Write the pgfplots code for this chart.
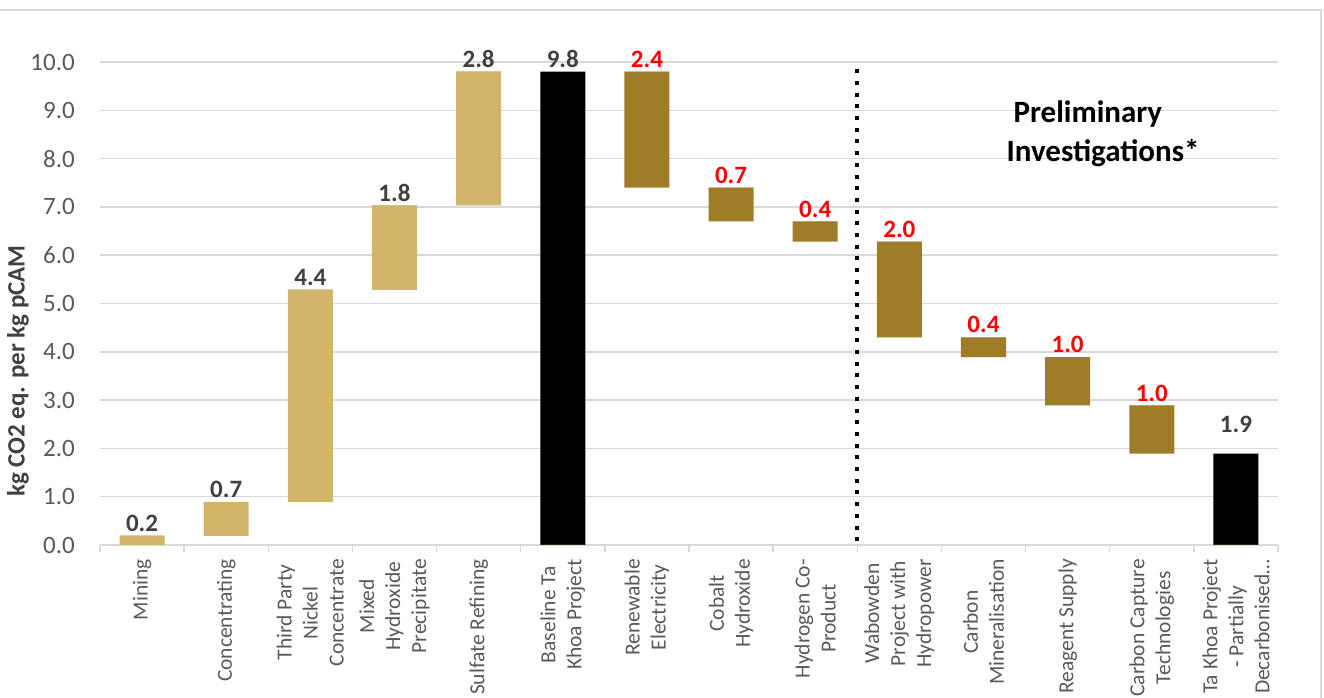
\documentclass[border=0pt]{standalone}
\usepackage{pgfplots}
\pgfplotsset{compat=1.18}
\usepackage{pgfplotstable}
\usepackage{fontspec}
\setmainfont{Carlito}

\definecolor{tanbar}{HTML}{D3B46B}
\definecolor{bronze}{HTML}{9E7C28}
\definecolor{gridgray}{HTML}{D9D9D9}
\definecolor{ticktext}{HTML}{595959}
\definecolor{labtext}{HTML}{404040}

% waterfall: invisible base + one height column per colour,
% z = zero-height top layer that carries the labels (lg grey, lr red)
\pgfplotstableread{
x  base tan  brz  blk  z lg  lr  sh
0  0.00 0.19 0    0    0 0.2 {}  4
1  0.19 0.70 0    0    0 0.7 {}  4
2  0.89 4.39 0    0    0 4.4 {}  4
3  5.28 1.75 0    0    0 1.8 {}  4
4  7.03 2.77 0    0    0 2.8 {}  4
5  0    0    0    9.80 0 9.8 {}  4
6  7.40 0    2.40 0    0 {}  2.4 4
7  6.70 0    0.70 0    0 {}  0.7 4
8  6.28 0    0.42 0    0 {}  0.4 4
9  4.30 0    1.98 0    0 {}  2.0 4
10 3.89 0    0.41 0    0 {}  0.4 4
11 2.89 0    1.00 0    0 {}  1.0 4
12 1.89 0    1.00 0    0 {}  1.0 4
13 0    0    0    1.89 0 1.9 {}  21
}\wf

\begin{document}
\begin{tikzpicture}
\useasboundingbox (0,0) rectangle (1324pt,698pt);
\draw[gridgray, line width=1.5pt] (0,688pt) -- (1321pt,688pt) -- (1321pt,0);
\begin{axis}[
  at={(100pt,153pt)}, anchor=south west,
  scale only axis, width=1178pt, height=483pt,
  ybar stacked, bar width=45pt,
  stacked ignores zero=false,
  xmin=-0.5, xmax=13.5, ymin=0, ymax=10,
  xtick={0,...,13},
  xticklabels={Mining, Concentrating, {Third Party\\Nickel\\Concentrate},
    {Mixed\\Hydroxide\\Precipitate}, Sulfate Refining, {Baseline Ta\\Khoa Project},
    {Renewable\\Electricity}, {Cobalt\\Hydroxide}, {Hydrogen Co-\\Product},
    {Wabowden\\Project with\\Hydropower}, {Carbon\\Mineralisation}, Reagent Supply,
    {Carbon Capture\\Technologies}, {Ta Khoa Project\\- Partially\\Decarbonised…}},
  minor xtick={-0.5,0.5,...,13.5},
  ytick={0,1,...,10},
  axis x line*=bottom, axis y line*=left,
  axis line style={-},
  y axis line style={draw=none},
  x axis line style={gridgray, line width=1.5pt},
  ymajorgrids, grid style={gridgray, line width=1.5pt},
  major tick length=0pt, minor tick length=7pt, tick align=outside,
  minor tick style={gridgray, line width=1.5pt},
  xticklabel style={font=\fontsize{21.5}{26}\selectfont, text=ticktext,
    rotate=90, anchor=east, align=center, inner xsep=14pt, inner ysep=0pt},
  yticklabel style={font=\fontsize{25}{30}\selectfont, text=ticktext,
    inner sep=0pt, xshift=-25pt,
    /pgf/number format/.cd, fixed, fixed zerofill, precision=1},
  /pgf/number format/assume math mode=true,
  ylabel={kg CO2 eq. per kg pCAM},
  ylabel style={font=\fontsize{25}{30}\selectfont\bfseries, text=labtext,
    at={(axis description cs:-0.0696,0.36)}, anchor=center},
]
\addplot[fill=none, draw=none] table[x=x, y=base] {\wf};
\addplot[fill=tanbar, draw=none] table[x=x, y=tan] {\wf};
\addplot[fill=bronze, draw=none] table[x=x, y=brz] {\wf};
\addplot[fill=black, draw=none] table[x=x, y=blk] {\wf};
\addplot[fill=none, draw=none, point meta=explicit symbolic,
  stacked ignores zero=false,
  visualization depends on={\thisrow{sh} \as \sh},
  nodes near coords,
  every node near coord/.append style={font=\fontsize{25}{30}\selectfont\bfseries,
    text=labtext, anchor=south, inner sep=0pt, yshift=\sh pt}]
  table[x=x, y=z, meta=lg] {\wf};
\addplot[fill=none, draw=none, point meta=explicit symbolic,
  stacked ignores zero=false,
  visualization depends on={\thisrow{sh} \as \sh},
  nodes near coords,
  every node near coord/.append style={font=\fontsize{25}{30}\selectfont\bfseries,
    text=red, anchor=south, inner sep=0pt, yshift=\sh pt}]
  table[x=x, y=z, meta=lr] {\wf};
\draw[black, line width=4pt, dash pattern=on 4pt off 7.7pt]
  (axis cs:8.5,9.85) -- (axis cs:8.5,0);
\end{axis}
\node[anchor=base west, font=\fontsize{31}{36}\selectfont\bfseries] at (1010pt,575pt) {Preliminary};
\node[anchor=base west, font=\fontsize{31}{36}\selectfont\bfseries] at (1003pt,536pt) {Investigations*};
\end{tikzpicture}
\end{document}
